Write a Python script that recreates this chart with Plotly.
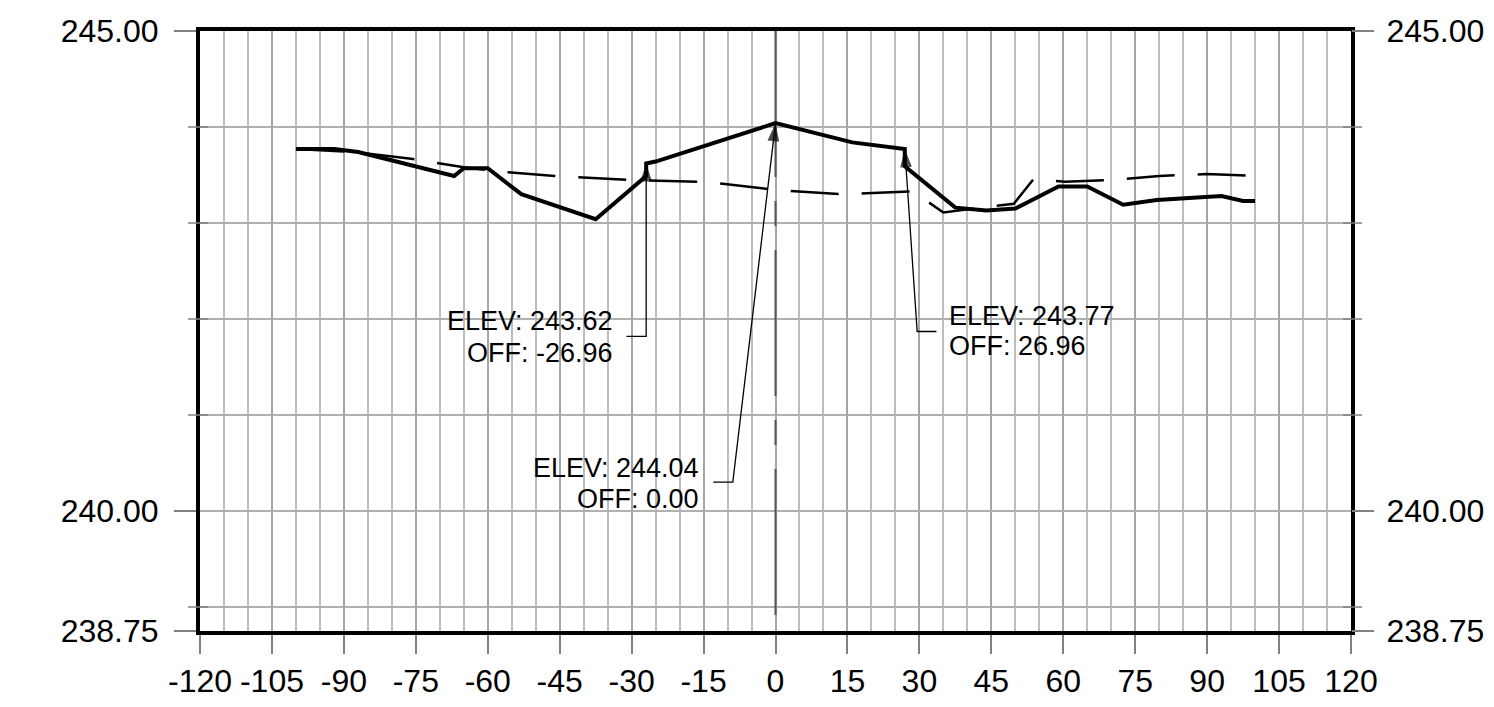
import plotly.graph_objects as go

# ---------------- data ----------------
# proposed ground (solid, thick)
ground_x = [-100, -92, -87, -67, -65, -60, -53, -37.5, -26.96, -26.96, -25, 0, 16,
            26.96, 26.96, 37.5, 44, 50, 59, 65, 72.5, 79.5, 93, 97.5, 100]
ground_y = [243.77, 243.77, 243.74, 243.49, 243.57, 243.57, 243.30, 243.04, 243.49, 243.62,
            243.64, 244.04, 243.84, 243.77, 243.59, 243.16, 243.13, 243.15, 243.38, 243.38,
            243.19, 243.24, 243.28, 243.23, 243.23]

# existing ground (long dashes)
exist_x = [-100, -88, -76, -65, -56, -46, -31, -16, -11, -1, 4, 14, 19, 28.5, 29.5, 35,
           43, 49.7, 53.7, 56, 60.4, 70.5, 80, 90, 100]
exist_y = [243.77, 243.74, 243.67, 243.58, 243.53, 243.49, 243.45, 243.43, 243.41, 243.35,
           243.33, 243.30, 243.31, 243.33, 243.30, 243.11, 243.16, 243.20, 243.45, 243.45,
           243.43, 243.45, 243.49, 243.51, 243.49]

# callouts
callout_off = [-26.96, 0.00, 26.96]
callout_elev = [243.62, 244.04, 243.77]
leader_start_x = [-31.06, -12.99, 33.56]
leader_elbow_x = [-26.96, -8.9, 29.54]
leader_y = [241.82, 240.30, 241.87]
label_x = [-33.56, -15.63, 35.79]
label_anchor = ["right", "right", "left"]
label_y1 = [241.978, 240.452, 242.030]
label_y2 = [241.648, 240.126, 241.718]

# axes
x_range = [-120, 120]
x_ticks = list(range(-120, 121, 15))
x_ticktext = [str(v) for v in x_ticks]
y_range = [238.75, 245]
y_ticks = [238.75, 240, 245]
y_ticktext = ["238.75", "240.00", "245.00"]
y_minor = [239, 241, 242, 243, 244]
centerline_x = 0

FONT = "Liberation Sans, Arial, sans-serif"

fig = go.Figure()

# centerline (offset 0), drawn from top to bottom
fig.add_trace(go.Scatter(x=[centerline_x, centerline_x], y=[y_range[1], y_range[0]],
                         mode="lines",
                         line=dict(color="#555555", width=2, dash="146px,24px,25px,24px"),
                         hoverinfo="skip", showlegend=False))

fig.add_trace(go.Scatter(x=exist_x, y=exist_y, mode="lines", yaxis="y2",
                         line=dict(color="black", width=2.5, dash="48px,23px"),
                         hoverinfo="skip", showlegend=False))
fig.add_trace(go.Scatter(x=ground_x, y=ground_y, mode="lines",
                         line=dict(color="black", width=4),
                         hoverinfo="skip", showlegend=False))

for i in range(len(callout_off)):
    fig.add_trace(go.Scatter(
        x=[leader_start_x[i], leader_elbow_x[i], callout_off[i]],
        y=[leader_y[i], leader_y[i], callout_elev[i]],
        mode="lines+markers",
        line=dict(color="black", width=1.3),
        marker=dict(symbol="arrow", size=[0, 0, 19], angleref="previous",
                    color="black", line=dict(width=0)),
        hoverinfo="skip", showlegend=False))
    fig.add_annotation(x=label_x[i], y=label_y1[i], xref="x", yref="y",
                       text=f"ELEV: {callout_elev[i]:.2f}", showarrow=False,
                       xanchor=label_anchor[i], yanchor="middle",
                       font=dict(family=FONT, size=27, color="black"))
    fig.add_annotation(x=label_x[i], y=label_y2[i], xref="x", yref="y",
                       text=f"OFF: {callout_off[i]:.2f}", showarrow=False,
                       xanchor=label_anchor[i], yanchor="middle",
                       font=dict(family=FONT, size=27, color="black"))

shapes = []
# minor ticks crossing both vertical borders
for v in y_minor:
    shapes.append(dict(type="line", xref="paper", yref="y", x0=-0.0104, x1=0.007,
                       y0=v, y1=v, line=dict(color="#808080", width=1.5)))
    shapes.append(dict(type="line", xref="paper", yref="y", x0=0.993, x1=1.0096,
                       y0=v, y1=v, line=dict(color="#808080", width=1.5)))
fig.update_layout(shapes=shapes)

tickfont = dict(family=FONT, size=32, color="black")

fig.update_layout(
    width=1494, height=707,
    margin=dict(l=200, r=143, t=31, b=76, pad=0, autoexpand=False),
    paper_bgcolor="white", plot_bgcolor="white",
    showlegend=False,
    xaxis=dict(range=x_range, tickvals=x_ticks, ticktext=x_ticktext, ticks="outside",
               ticklen=19, tickwidth=1.5, tickcolor="#808080", tickfont=tickfont,
               showgrid=True, gridcolor="#a6a6a6", gridwidth=2,
               minor=dict(dtick=5, tick0=0, showgrid=True, gridcolor="#bdbdbd",
                          gridwidth=1.5, ticks=""),
               showline=True, linecolor="black", linewidth=4, mirror=True,
               zeroline=False, fixedrange=True, ticklabelstandoff=0, automargin=False),
    yaxis=dict(range=y_range, tickvals=y_ticks, ticktext=y_ticktext, ticks="outside",
               ticklen=22, tickwidth=1.5, tickcolor="#808080", tickfont=tickfont,
               showgrid=True, gridcolor="#b0b0b0", gridwidth=2,
               minor=dict(tickvals=y_minor, showgrid=True, gridcolor="#b0b0b0",
                          gridwidth=2, ticks=""),
               showline=True, linecolor="black", linewidth=4, mirror=True,
               zeroline=False, fixedrange=True, ticklabelstandoff=9, automargin=False),
    yaxis2=dict(range=y_range, tickvals=y_ticks, ticktext=y_ticktext, ticks="outside",
                ticklen=22, tickwidth=1.5, tickcolor="#808080", tickfont=tickfont,
                overlaying="y", side="right", showgrid=False, showline=False,
                zeroline=False, fixedrange=True, ticklabelstandoff=6, automargin=False),
)

fig.write_html("out.html", config={"displayModeBar": False},
               post_script="document.body.style.margin='0';")
